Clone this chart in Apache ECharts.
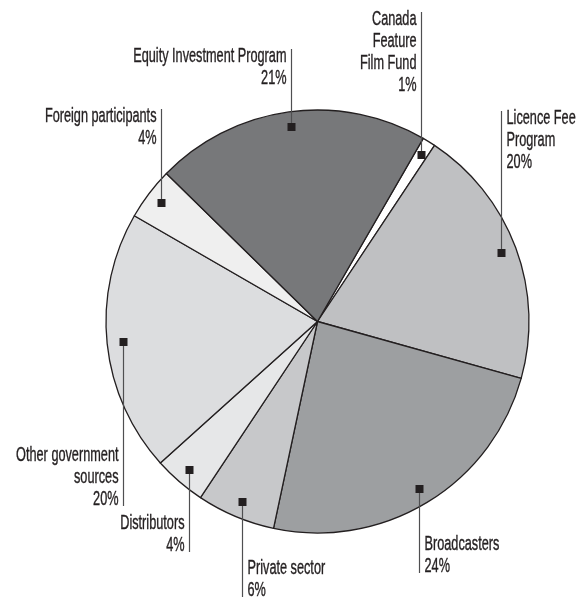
<!DOCTYPE html>
<html>
<head>
<meta charset="utf-8">
<script src="https://cdn.jsdelivr.net/npm/echarts@6/dist/echarts.min.js"></script>
<style>
  html, body { margin: 0; padding: 0; background: #ffffff; }
  #chart { width: 582px; height: 600px; }
</style>
</head>
<body>
<div id="chart"></div>
<script>
// Funding sources, share of total (%), listed clockwise from the top
const sources = [
  'Canada\nFeature\nFilm Fund',
  'Licence Fee\nProgram',
  'Broadcasters',
  'Private sector',
  'Distributors',
  'Other government\nsources',
  'Foreign participants',
  'Equity Investment Program'
];
const shares = [1, 20, 24, 6, 4, 20, 4, 21];
const fills = ['#ffffff', '#bfc0c2', '#9d9fa1', '#c7c8ca', '#e6e7e8', '#dcdddf', '#efefef', '#77787a'];

// Label placement: which side of the leader line the text sits, and top of the text block
const labelSide = ['left', 'right', 'right', 'right', 'left', 'left', 'left', 'left'];
const labelTop = [8, 107, 533, 557, 512, 444, 105, 45];

const FONT_FAMILY = "'Liberation Sans', Arial, sans-serif";
const FONT_SIZE = 20.5;
const SQUEEZE = 0.62;     // horizontal condensing of the label type
const LINE_H = 22;
const CENTER = [317.5, 321.5];
const R = 211.5;
const MARK_R = 196;
const MARK_SIZE = 8;
const INK = '#231f20';

const chart = echarts.init(document.getElementById('chart'), null, { renderer: 'canvas' });

chart.setOption({
  animation: false,
  backgroundColor: '#ffffff',
  series: [
    {
      type: 'pie',
      center: CENTER,
      radius: [0, R],
      startAngle: 60,
      clockwise: true,
      silent: true,
      itemStyle: { borderColor: INK, borderWidth: 1.3 },
      label: { show: false },
      labelLine: { show: false },
      data: sources.map((name, i) => ({
        name: name,
        value: shares[i],
        itemStyle: { color: fills[i] }
      }))
    }
  ]
});

// Markers, leader lines and condensed labels, placed from the pie's own slice layout
const layoutData = chart.getModel().getSeriesByIndex(0).getData();
const graphics = [];
sources.forEach((name, i) => {
  const lay = layoutData.getItemLayout(i);
  const mid = (lay.startAngle + lay.endAngle) / 2;
  const mx = lay.cx + MARK_R * Math.cos(mid);
  const my = lay.cy + MARK_R * Math.sin(mid);
  const text = name + '\n' + shares[i] + '%';
  const lines = text.split('\n').length;
  const top = labelTop[i];
  const bottom = top + lines * LINE_H;
  const lx = Math.round(mx) + 0.5;
  const endY = top < my ? top + 4 : bottom - 4;
  const left = labelSide[i] === 'left';
  graphics.push({
    type: 'line',
    z: 3,
    silent: true,
    shape: { x1: lx, y1: my, x2: lx, y2: endY },
    style: { stroke: '#4f4f51', lineWidth: 1.2 }
  });
  graphics.push({
    type: 'rect',
    z: 4,
    silent: true,
    shape: { x: lx - MARK_SIZE / 2, y: Math.round(my) - MARK_SIZE / 2, width: MARK_SIZE, height: MARK_SIZE },
    style: { fill: INK }
  });
  graphics.push({
    type: 'text',
    z: 4,
    silent: true,
    x: left ? lx - 5 : lx + 5,
    y: top,
    scaleX: SQUEEZE,
    style: {
      text: text,
      fontFamily: FONT_FAMILY,
      fontSize: FONT_SIZE,
      lineHeight: LINE_H,
      fill: INK,
      stroke: INK,
      lineWidth: 0.4,
      align: left ? 'right' : 'left',
      verticalAlign: 'top'
    }
  });
});
chart.setOption({ graphic: graphics });
</script>
</body>
</html>
